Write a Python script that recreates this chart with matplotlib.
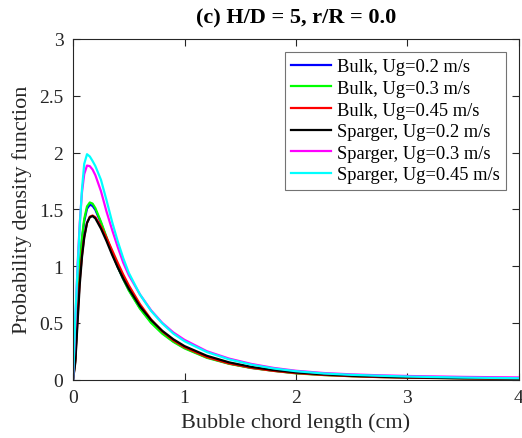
import matplotlib
matplotlib.use('Agg')
import matplotlib.pyplot as plt

plt.rcParams['font.family'] = ['Liberation Serif', 'DejaVu Serif']

# chord length grid (cm) and PDF values
x = [0, 0.02, 0.04, 0.06, 0.08, 0.1, 0.125, 0.15, 0.175, 0.2, 0.25, 0.3, 0.35,
     0.4, 0.45, 0.5, 0.6, 0.7, 0.8, 0.9, 1.0, 1.2, 1.4, 1.6, 1.8, 2.0, 2.25,
     2.5, 2.75, 3.0, 3.5, 4.0]

bulk_02 = [0, 0.19, 0.61, 0.98, 1.235, 1.395, 1.505, 1.54, 1.53, 1.495, 1.38,
           1.245, 1.115, 0.995, 0.885, 0.79, 0.63, 0.505, 0.41, 0.337, 0.28,
           0.196, 0.142, 0.104, 0.079, 0.058, 0.043, 0.032, 0.024, 0.019,
           0.012, 0.008]
bulk_03 = [0, 0.19, 0.62, 0.995, 1.25, 1.415, 1.525, 1.56, 1.55, 1.51, 1.39,
           1.255, 1.12, 0.995, 0.885, 0.785, 0.625, 0.50, 0.405, 0.332, 0.275,
           0.192, 0.139, 0.102, 0.077, 0.055, 0.040, 0.030, 0.023, 0.018,
           0.011, 0.008]
bulk_045 = [0, 0.17, 0.55, 0.88, 1.10, 1.26, 1.38, 1.435, 1.445, 1.43, 1.35,
            1.25, 1.14, 1.03, 0.925, 0.83, 0.665, 0.53, 0.425, 0.345, 0.285,
            0.198, 0.142, 0.104, 0.077, 0.057, 0.041, 0.030, 0.022, 0.017,
            0.011, 0.007]
sparger_02 = [0, 0.15, 0.50, 0.84, 1.08, 1.25, 1.38, 1.43, 1.44, 1.42, 1.33,
              1.22, 1.10, 0.99, 0.89, 0.80, 0.645, 0.525, 0.43, 0.355, 0.295,
              0.21, 0.152, 0.112, 0.084, 0.063, 0.046, 0.034, 0.026, 0.020,
              0.013, 0.009]
sparger_03 = [0, 0.50, 1.00, 1.38, 1.65, 1.81, 1.885, 1.88, 1.85, 1.80, 1.66,
              1.48, 1.32, 1.17, 1.03, 0.92, 0.75, 0.61, 0.50, 0.415, 0.35,
              0.25, 0.185, 0.138, 0.103, 0.078, 0.058, 0.046, 0.038, 0.032,
              0.024, 0.019]
sparger_045 = [0, 0.55, 0.97, 1.36, 1.68, 1.90, 1.985, 1.965, 1.925, 1.88, 1.76,
               1.58, 1.39, 1.22, 1.07, 0.94, 0.75, 0.605, 0.495, 0.405, 0.338,
               0.243, 0.178, 0.132, 0.098, 0.074, 0.054, 0.042, 0.034, 0.027,
               0.018, 0.012]

series = [
    (bulk_02, 'b', 'Bulk, Ug=0.2 m/s'),
    (bulk_03, '#00ff00', 'Bulk, Ug=0.3 m/s'),
    (bulk_045, 'r', 'Bulk, Ug=0.45 m/s'),
    (sparger_02, 'k', 'Sparger, Ug=0.2 m/s'),
    (sparger_03, '#ff00ff', 'Sparger, Ug=0.3 m/s'),
    (sparger_045, '#00ffff', 'Sparger, Ug=0.45 m/s'),
]

fig = plt.figure(figsize=(5.22, 4.39), dpi=100)
ax = fig.add_axes([0.140, 0.133, 0.854, 0.776])

for y, c, lab in series:
    ax.plot(x, y, color=c, lw=1.6, label=lab)

ax.set_xlim(0, 4)
ax.set_ylim(0, 3)
ax.set_xticks([0, 1, 2, 3, 4])
ax.set_yticks([0, 0.5, 1, 1.5, 2, 2.5, 3])
ax.set_yticklabels(['0', '0.5', '1', '1.5', '2', '2.5', '3'])
ax.tick_params(direction='in', top=True, right=True, labelsize=14,
               colors='#262626', length=5, width=0.8, pad=7)
for s in ax.spines.values():
    s.set_color('#262626')
    s.set_linewidth(0.8)

ax.set_xlabel('Bubble chord length (cm)', fontsize=16, color='#262626',
              labelpad=4)
ax.set_ylabel('Probability density function', fontsize=16, color='#262626',
              labelpad=5)
ax.set_title('(c) H/D = 5, r/R = 0.0', fontsize=16, fontweight='bold', pad=12)

leg = ax.legend(loc='upper right', fontsize=13.3, handlelength=2.15,
                labelspacing=0.25, handletextpad=0.3, borderaxespad=0.7,
                borderpad=0.35, fancybox=False, framealpha=1)
leg.get_frame().set_edgecolor('0.45')
leg.get_frame().set_linewidth(0.8)

fig.savefig('out.png', dpi=100)
